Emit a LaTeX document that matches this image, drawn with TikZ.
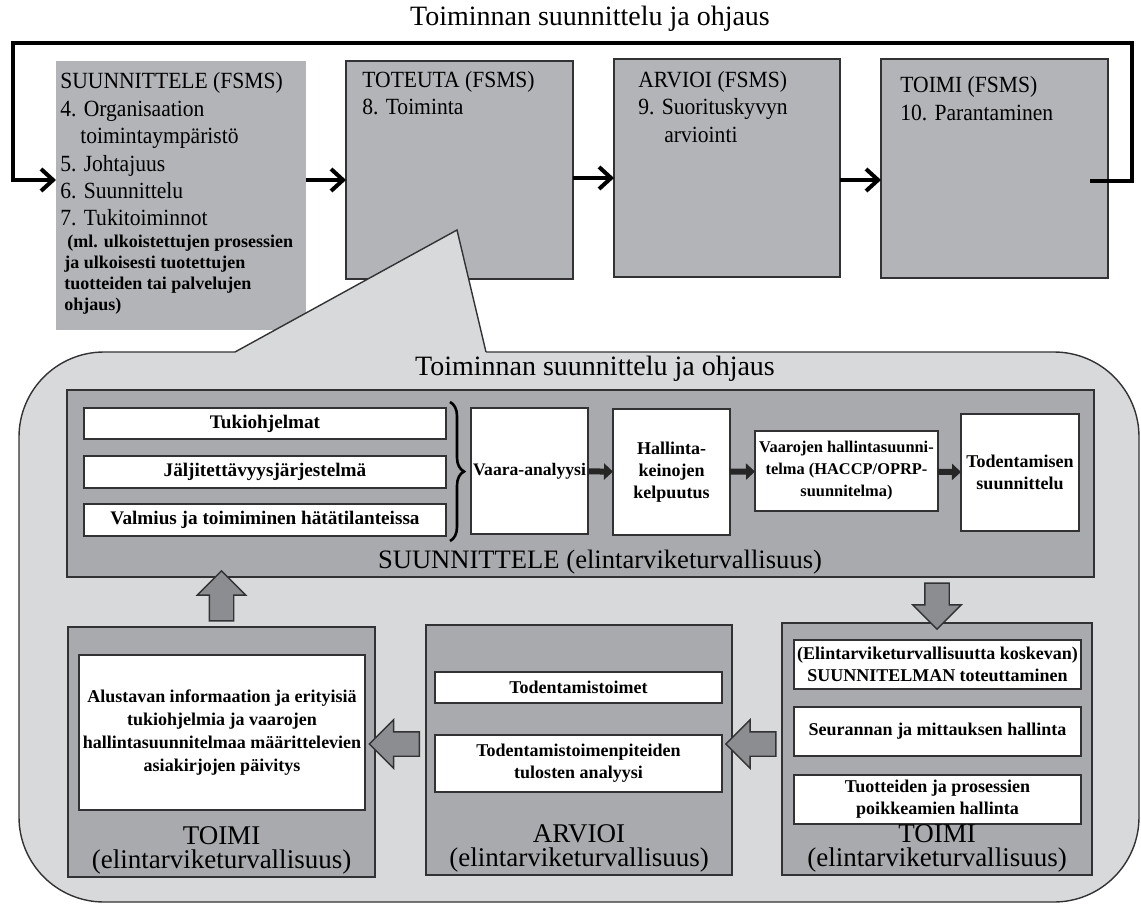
\documentclass[tikz,border=0pt]{standalone}
\usepackage{fontspec}
\setmainfont{Liberation Serif}
\newfontfamily\fsmsfont{Liberation Serif}[FakeStretch=0.93]
\usetikzlibrary{positioning,calc,arrows.meta,shapes.arrows,decorations.pathreplacing}

\definecolor{fsmsgray}{RGB}{179,180,184}
\definecolor{callgray}{RGB}{216,217,219}
\definecolor{stagegray}{RGB}{169,170,174}
\definecolor{arrgray}{RGB}{140,141,144}
\definecolor{linegray}{RGB}{50,50,52}

\tikzset{
  fsms/.style={draw=linegray, line width=0.7pt, fill=fsmsgray, inner sep=0pt, outer sep=0pt},
  fsmstext/.style={anchor=base west, align=left, inner sep=0pt, font=\fsmsfont\fontsize{11.6}{13.75}\selectfont},
  fsmssmall/.style={anchor=base west, align=left, inner sep=0pt, font=\fontsize{9}{10.5}\selectfont\bfseries},
  title/.style={anchor=base, inner sep=0pt, font=\fontsize{14}{16}\selectfont},
  stage/.style={draw=linegray, line width=0.8pt, fill=stagegray, inner sep=0pt, outer sep=0pt},
  stagelabel/.style={inner sep=0pt, align=center, font=\fontsize{13.5}{12}\selectfont},
  wbox/.style={draw=linegray, line width=0.7pt, fill=white, inner sep=0pt, outer sep=0pt, align=center,
    font=\fontsize{9}{11}\selectfont\bfseries},
  wlist/.style={wbox, minimum width=181pt, font=\fontsize{9.6}{11}\selectfont\bfseries},
  flow/.style={line width=2pt, -{Straight Barb[length=6pt,width=11pt]}},
  darr/.style={draw=black!85, line width=3pt, -{Triangle[length=4.5pt,width=8pt]}},
  bigarrow/.style={single arrow, draw=linegray, fill=arrgray, line width=0.7pt, inner sep=5.75pt,
    single arrow head extend=6pt, single arrow tip angle=90},
  brace/.style={decorate, decoration={brace, amplitude=7pt}, line width=1.3pt}
}

\begin{document}
\begin{tikzpicture}[x=0.5pt,y=-0.5pt]
  \useasboundingbox (0,0) rectangle (1141,904);

  \node[title] (ttl) at (590,26) {Toiminnan suunnittelu ja ohjaus};

  \node[fsms, draw=none, minimum width=125pt, minimum height=134.5pt] (plan) at (181,195.5) {};
  \node[fsms, minimum width=113.5pt, minimum height=109pt] (do) at (459.5,170) {};
  \node[fsms, minimum width=113pt, minimum height=109pt] (check) at (727,168) {};
  \node[fsms, minimum width=113.5pt, minimum height=109.5pt] (act) at (994.5,168.5) {};

  \node[fsmstext] (plan-t) at (60,226) {SUUNNITTELE (FSMS)\\4. Organisaation\\\hspace*{10pt}toimintaympäristö\\5. Johtajuus\\6. Suunnittelu\\7. Tukitoiminnot};
  \node[fsmssmall] (plan-s) at (64,310) {\hspace*{1.5pt}(ml. ulkoistettujen prosessien\\ja ulkoisesti tuotettujen\\tuotteiden tai palvelujen\\ohjaus)};
  \node[fsmstext] (do-t) at (362,115) {TOTEUTA (FSMS)\\8. Toiminta};
  \node[fsmstext] (check-t) at (638,142) {ARVIOI (FSMS)\\9. Suorituskyvyn\\\hspace*{13pt}arviointi};
  \node[fsmstext] (act-t) at (900,120) {TOIMI (FSMS)\\10. Parantaminen};

  \coordinate (ay) at (0,180);
  \coordinate (top) at (0,43);
  \draw[flow] (plan.east |- ay) -- (do.west |- ay);
  \draw[flow] (do.east |- 0,178) -- (check.west |- 0,178);
  \draw[flow] (check.east |- ay) -- (act.west |- ay);
  \draw[flow] ($(act.east |- ay)+(-18,1)$) -- ($(act.east |- ay)+(24,1)$) |- ($(plan.west |- top)+(-43,0)$) |- (plan.west |- ay);

  \draw[draw=linegray, line width=0.7pt, fill=callgray, rounded corners=42.5pt] (19,352) rectangle (1139,902);
  \fill[callgray] (235,352.5) -- (457,230) -- (486,352.5) -- (486,356) -- (235,356) -- cycle;
  \draw[draw=linegray, line width=0.7pt] (235,352) -- (457,230) -- (486,352);

  \node[title] (ttl2) at (595,375) {Toiminnan suunnittelu ja ohjaus};

  \node[stage, minimum width=513.5pt, minimum height=93.5pt] (plan2) at (580.5,483.5) {};
  \node[stagelabel, anchor=base, font=\fontsize{13.3}{15}\selectfont] (plan2-l) at (600,568) {SUUNNITTELE (elintarviketurvallisuus)};

  \node[wlist, minimum height=15.5pt] (tuki) at (265,423.5) {Tukiohjelmat};
  \node[wlist, minimum height=16pt] (jalj) at (265,472) {Jäljitettävyysjärjestelmä};
  \node[wlist, minimum height=16pt] (valm) at (265,520) {Valmius ja toimiminen hätätilanteissa};
  \draw[brace] ([xshift=2pt,yshift=3pt]tuki.north east) -- ([xshift=2pt,yshift=-2.5pt]valm.south east);

  \node[wbox, minimum width=58.5pt, minimum height=63pt, font=\fontsize{8.8}{11}\selectfont\bfseries] (vaara) at (529.5,471) {Vaara-analyysi};
  \node[wbox, minimum width=58.5pt, minimum height=63pt] (hall) at (671.5,472) {Hallinta-\\keinojen\\kelpuutus};
  \node[wbox, minimum width=91.5pt, minimum height=40pt, font=\fontsize{8.2}{11}\selectfont\bfseries] (vhs) at (846.5,471) {Vaarojen hallintasuunni-\\telma (HACCP/OPRP-\\suunnitelma)};
  \node[wbox, minimum width=59pt, minimum height=58.5pt] (tod) at (1020,472.5) {Todentamisen\\suunnittelu};
  \draw[darr] (vaara) -- (hall);
  \draw[darr] (hall) -- (vhs);
  \draw[darr] (vhs) -- (tod);

  \node[stage, minimum width=153.5pt, minimum height=125pt] (act2) at (221.5,752) {};
  \node[wbox, minimum width=143pt, minimum height=77.5pt, font=\fontsize{9}{11.5}\selectfont\bfseries] (upd) at (222,732.5) {Alustavan informaation ja erityisiä\\tukiohjelmia ja vaarojen\\hallintasuunnitelmaa määrittelevien\\asiakirjojen päivitys};
  \node[stagelabel, above=1pt of act2.south] (act2-l) {TOIMI\\(elintarviketurvallisuus)};

  \node[stage, minimum width=153pt, minimum height=125pt] (check2) at (579,750) {};
  \node[wbox, minimum width=143.5pt, minimum height=15.5pt] (tdt) at (578.5,687.5) {Todentamistoimet};
  \node[wbox, minimum width=143.5pt, minimum height=28.5pt] (tdtp) at (578.5,763.5) {Todentamistoimenpiteiden\\tulosten analyysi};
  \node[stagelabel, above=1pt of check2.south] (check2-l) {ARVIOI\\(elintarviketurvallisuus)};

  \node[stage, minimum width=155pt, minimum height=126pt] (act3) at (937,749) {};
  \node[wbox, minimum width=143.5pt, minimum height=24.5pt] (impl) at (937.5,664.5) {(Elintarviketurvallisuutta koskevan)\\SUUNNITELMAN toteuttaminen};
  \node[wbox, minimum width=143.5pt, minimum height=24.5pt] (mon) at (937.5,731.5) {Seurannan ja mittauksen hallinta};
  \node[wbox, minimum width=143.5pt, minimum height=24.5pt] (dev) at (937.5,799.5) {Tuotteiden ja prosessien\\poikkeamien hallinta};
  \node[stagelabel, above=1pt of act3.south] (act3-l) {TOIMI\\(elintarviketurvallisuus)};

  \coordinate (ry) at (0,744);
  \node[bigarrow, rotate=-90, minimum height=23pt] (down) at ($(plan2.south -| act3)!0.5!(act3.north)$) {};
  \node[bigarrow, rotate=180, minimum height=25pt] (left1) at ($(act3.west |- ry)!0.5!(check2.east |- ry)$) {};
  \node[bigarrow, rotate=180, minimum height=25pt] (left2) at ($(check2.west |- ry)!0.5!(act2.east |- ry)$) {};
  \node[bigarrow, rotate=90, minimum height=25pt] (up) at ($(act2.north)!0.5!(plan2.south -| act2)$) {};
\end{tikzpicture}
\end{document}
